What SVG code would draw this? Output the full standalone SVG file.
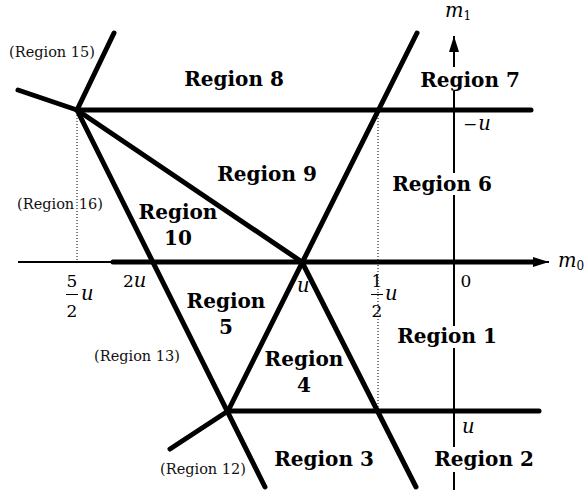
<svg xmlns="http://www.w3.org/2000/svg" width="587" height="490" viewBox="0 0 587 490">
<defs>
<style>
.thick{stroke:#000;stroke-width:5;stroke-linecap:round;fill:none}
.axis{stroke:#000;stroke-width:2;fill:none}
.dot{stroke:#000;stroke-width:1;stroke-dasharray:1 2;fill:none}
.reg{font-family:"DejaVu Serif","Liberation Serif",serif;font-weight:bold;font-size:20px;text-anchor:middle;fill:#000}
.sub{font-family:"DejaVu Serif","Liberation Serif",serif;font-size:14.5px;text-anchor:middle;fill:#111}
.m{font-family:"DejaVu Serif","Liberation Serif",serif;font-size:17px;fill:#000}
.it{font-style:italic;font-size:19.5px}
.bg{fill:#fff}
</style>
<marker id="arr" viewBox="0 0 16 10" refX="16" refY="5" markerWidth="16" markerHeight="10" markerUnits="userSpaceOnUse" orient="auto">
<path d="M0,0 L16,5 L0,10 Z" fill="#000"/>
</marker>
</defs>
<rect width="587" height="490" fill="#fff"/>
<g id="guides">
<line class="dot" x1="77" y1="112" x2="77" y2="262"/>
<line class="dot" x1="378" y1="112" x2="378" y2="411"/>
</g>
<g id="axes">
<line class="axis" x1="18" y1="262" x2="113" y2="262"/>
<line class="axis" x1="454" y1="490" x2="454" y2="36" marker-end="url(#arr)"/>
<line class="thick" x1="113" y1="262" x2="536" y2="262" stroke-linecap="butt"/>
<line class="axis" x1="530" y1="262" x2="549" y2="262" marker-end="url(#arr)"/>
</g>
<g id="connectors">
<line class="thick" x1="18" y1="90" x2="77" y2="110"/>
<line class="thick" x1="114" y1="33" x2="77" y2="110"/>
<line class="thick" x1="77" y1="110" x2="531" y2="110"/>
<line class="thick" x1="77" y1="110" x2="302" y2="262"/>
<line class="thick" x1="77" y1="110" x2="265" y2="487"/>
<line class="thick" x1="417" y1="33" x2="228" y2="411"/>
<line class="thick" x1="228" y1="411" x2="170" y2="449"/>
<line class="thick" x1="302" y1="262" x2="416" y2="487"/>
<line class="thick" x1="228" y1="411" x2="539" y2="411"/>
</g>
<g id="label-bg">
<rect class="bg" x="430" y="67" width="40" height="24"/>
<rect class="bg" x="430" y="173" width="40" height="22"/>
<rect class="bg" x="430" y="326" width="40" height="22"/>
<rect class="bg" x="430" y="447" width="40" height="25"/>
</g>
<g id="region8"><text class="reg" x="234" y="86">Region 8</text></g>
<g id="region7"><text class="reg" x="470" y="87">Region 7</text></g>
<g id="region9"><text class="reg" x="267" y="181">Region 9</text></g>
<g id="region6"><text class="reg" x="442" y="191">Region 6</text></g>
<g id="region10"><text class="reg" x="178" y="219">Region</text><text class="reg" x="178" y="245">10</text></g>
<g id="region5"><text class="reg" x="226" y="308">Region</text><text class="reg" x="226" y="334">5</text></g>
<g id="region1"><text class="reg" x="447" y="343">Region 1</text></g>
<g id="region4"><text class="reg" x="304" y="366">Region</text><text class="reg" x="304" y="392">4</text></g>
<g id="region3"><text class="reg" x="324" y="466">Region 3</text></g>
<g id="region2"><text class="reg" x="484" y="466">Region 2</text></g>
<g id="region15"><text class="sub" x="52" y="57">(Region 15)</text></g>
<g id="region16"><text class="sub" x="60" y="209">(Region 16)</text></g>
<g id="region13"><text class="sub" x="137" y="361">(Region 13)</text></g>
<g id="region12"><text class="sub" x="203" y="474">(Region 12)</text></g>
<g id="math">
<text class="m" x="445" y="17"><tspan class="it">m</tspan><tspan font-size="12" dy="3">1</tspan></text>
<text class="m" x="558" y="267"><tspan class="it">m</tspan><tspan font-size="12" dy="3">0</tspan></text>
<text class="m" x="463" y="130">−<tspan class="it" dx="1">u</tspan></text>
<text class="m" x="466" y="287" text-anchor="middle">0</text>
<text class="m it" x="462" y="433">u</text>
<text class="m it" x="297" y="292">u</text>
<text class="m" x="123" y="287">2<tspan class="it">u</tspan></text>
<text class="m" x="72" y="287" text-anchor="middle">5</text>
<line x1="66" y1="294.5" x2="78" y2="294.5" stroke="#000" stroke-width="1"/>
<text class="m" x="72" y="317" text-anchor="middle">2</text>
<text class="m it" x="81" y="300">u</text>
<text class="m" x="377" y="287" text-anchor="middle">1</text>
<line x1="371" y1="294.5" x2="383" y2="294.5" stroke="#000" stroke-width="1"/>
<text class="m" x="377" y="317" text-anchor="middle">2</text>
<text class="m it" x="385" y="300">u</text>
</g>
</svg>
